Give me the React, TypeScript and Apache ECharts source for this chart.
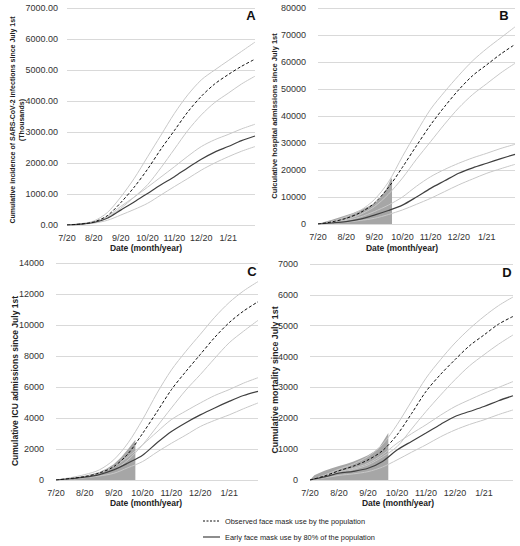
import React, { useEffect, useRef } from "react";
import * as echarts from "echarts";

const MONTHS = [0, 0.5, 1, 1.5, 2, 2.5, 3, 3.5, 4, 4.5, 5, 5.5, 6, 6.5, 7];
const X_LABELS = ["7/20", "8/20", "9/20", "10/20", "11/20", "12/20", "1/21"];

// Panel A (thousands)
const A_OBS = [0, 30, 100, 300, 720, 1220, 1800, 2450, 3050, 3650, 4150, 4550, 4850, 5120, 5350];
const A_OBS_HI = [0, 40, 130, 400, 900, 1500, 2200, 2900, 3600, 4200, 4680, 5000, 5300, 5600, 5900];
const A_OBS_LO = [0, 20, 80, 250, 540, 900, 1300, 1850, 2450, 3050, 3550, 3950, 4250, 4550, 4800];
const A_EARLY = [0, 30, 80, 220, 480, 740, 1020, 1300, 1560, 1850, 2120, 2350, 2530, 2720, 2870];
const A_EARLY_HI = [0, 40, 100, 280, 600, 900, 1220, 1550, 1880, 2220, 2530, 2750, 2920, 3100, 3250];
const A_EARLY_LO = [0, 20, 60, 150, 320, 500, 700, 970, 1240, 1500, 1770, 2000, 2200, 2380, 2530];

// Panel B
const B_OBS = [0, 800, 2100, 4200, 7700, 13500, 21000, 29000, 36700, 43500, 49700, 55000, 59000, 63000, 66500];
const B_OBS_HI = [0, 1000, 2700, 5000, 9000, 15500, 25000, 34000, 42500, 49000, 55000, 60500, 65000, 69000, 73000];
const B_OBS_LO = [0, 600, 1600, 3500, 6400, 11000, 17000, 24000, 30500, 37000, 43000, 48000, 52000, 56000, 59500];
const B_EARLY = [0, 400, 900, 1800, 3300, 5000, 7000, 10000, 13200, 16000, 18800, 20800, 22500, 24200, 25800];
const B_EARLY_HI = [0, 500, 1300, 2600, 4600, 7000, 10000, 14000, 17500, 20200, 22500, 24500, 26200, 28000, 29500];
const B_EARLY_LO = [0, 300, 700, 1300, 2100, 3500, 5200, 7300, 9500, 12000, 14500, 16700, 18800, 20500, 22100];
const B_DATA_X = [0, 0.25, 0.5, 0.75, 1, 1.25, 1.5, 1.75, 2, 2.2, 2.4, 2.5, 2.6, 2.63];
const B_DATA = [0, 800, 1600, 2400, 3200, 4100, 5200, 6300, 7600, 9500, 12500, 14500, 17000, 16500];

// Panel C
const C_OBS = [0, 100, 220, 450, 860, 1700, 3000, 4400, 5830, 7000, 8100, 9200, 10150, 10900, 11500];
const C_OBS_HI = [0, 150, 350, 650, 1300, 2400, 3900, 5600, 7100, 8300, 9400, 10500, 11450, 12200, 12800];
const C_OBS_LO = [0, 80, 180, 350, 650, 1300, 2270, 3450, 4650, 5800, 6800, 7850, 8850, 9600, 10300];
const C_EARLY = [0, 80, 180, 350, 650, 1100, 1600, 2400, 3130, 3700, 4200, 4650, 5070, 5450, 5720];
const C_EARLY_HI = [0, 100, 220, 450, 860, 1500, 2270, 3100, 3900, 4450, 4970, 5450, 5830, 6250, 6600];
const C_EARLY_LO = [0, 60, 140, 260, 430, 800, 1190, 1800, 2370, 2900, 3450, 3850, 4200, 4600, 4970];
const C_DATA_X = [0, 0.25, 0.5, 0.75, 1, 1.25, 1.5, 1.75, 2, 2.25, 2.5, 2.75];
const C_DATA = [0, 50, 120, 200, 280, 380, 520, 720, 1020, 1450, 2000, 2600];

// Panel D
const D_OBS = [0, 130, 300, 450, 650, 950, 1460, 2150, 2870, 3420, 3900, 4350, 4700, 5050, 5300];
const D_OBS_HI = [0, 160, 350, 520, 760, 1150, 1790, 2550, 3300, 3900, 4440, 4900, 5300, 5650, 5930];
const D_OBS_LO = [0, 100, 220, 340, 490, 750, 1080, 1650, 2220, 2750, 3250, 3700, 4060, 4400, 4700];
const D_EARLY = [0, 100, 220, 280, 380, 600, 970, 1250, 1520, 1800, 2060, 2220, 2380, 2570, 2730];
const D_EARLY_HI = [0, 130, 260, 380, 540, 820, 1190, 1500, 1790, 2100, 2380, 2600, 2810, 3000, 3190];
const D_EARLY_LO = [0, 70, 150, 200, 270, 420, 650, 900, 1140, 1400, 1620, 1800, 1950, 2120, 2270];
const D_DATA_X = [0, 0.15, 0.3, 0.5, 0.75, 1, 1.25, 1.5, 1.75, 2, 2.25, 2.4, 2.55, 2.7];
const D_DATA = [0, 150, 220, 300, 380, 450, 520, 600, 700, 800, 950, 1080, 1300, 1520];

const OBS_NAME = "Observed face mask use by the population";
const EARLY_NAME = "Early face mask use by 80% of the population";

const FONT = "Liberation Sans, Arial, sans-serif";
const LABEL_COLOR = "#333333";

const pair = (xs: number[], ys: number[]) => xs.map((x, i) => [x, ys[i]]);

export default function App() {
  const ref = useRef<HTMLDivElement>(null);
  useEffect(() => {
    if (!ref.current) return;
    const chart = echarts.init(ref.current, undefined, { renderer: "svg" });

    const grids = [
      { left: 67, top: 8, width: 188, height: 217 },
      { left: 318, top: 8, width: 197, height: 216 },
      { left: 56, top: 263, width: 202, height: 217 },
      { left: 310, top: 264, width: 203, height: 216 },
    ];
    const yMax = [7000, 80000, 14000, 7000];
    const yInt = [1000, 10000, 2000, 1000];

    const xAxes = grids.map((_, i) => ({
      type: "value",
      gridIndex: i,
      min: 0,
      max: 7,
      interval: 1,
      axisLine: { show: false },
      axisTick: { show: false },
      splitLine: { show: false },
      axisLabel: {
        fontSize: 9,
        color: LABEL_COLOR,
        fontFamily: FONT,
        margin: 8,
        formatter: (v: number) => X_LABELS[Math.round(v)] ?? "",
      },
    }));
    const yAxes = grids.map((_, i) => ({
      type: "value",
      gridIndex: i,
      min: 0,
      max: yMax[i],
      interval: yInt[i],
      axisLine: { show: false },
      axisTick: { show: false },
      splitLine: { lineStyle: { color: "#d9d9d9", width: 1 } },
      axisLabel: {
        fontSize: 9,
        color: LABEL_COLOR,
        fontFamily: FONT,
        margin: i === 0 ? 9 : 12,
        formatter: (v: number) => (i === 0 ? v.toFixed(2) : String(v)),
      },
    }));

    const panels = [
      [A_OBS, A_OBS_HI, A_OBS_LO, A_EARLY, A_EARLY_HI, A_EARLY_LO],
      [B_OBS, B_OBS_HI, B_OBS_LO, B_EARLY, B_EARLY_HI, B_EARLY_LO],
      [C_OBS, C_OBS_HI, C_OBS_LO, C_EARLY, C_EARLY_HI, C_EARLY_LO],
      [D_OBS, D_OBS_HI, D_OBS_LO, D_EARLY, D_EARLY_HI, D_EARLY_LO],
    ];
    const observedData: (null | [number[], number[]])[] = [
      null,
      [B_DATA_X, B_DATA],
      [C_DATA_X, C_DATA],
      [D_DATA_X, D_DATA],
    ];

    const series: any[] = [];
    panels.forEach((p, i) => {
      const od = observedData[i];
      if (od) {
        series.push({
          type: "line",
          name: "data" + i,
          xAxisIndex: i,
          yAxisIndex: i,
          data: pair(od[0], od[1]),
          symbol: "none",
          lineStyle: { width: 0, color: "#a6a6a6" },
          areaStyle: { color: "#a6a6a6", opacity: 1 },
          z: 1,
        });
      }
      const bounds = [p[1], p[2], p[4], p[5]];
      bounds.forEach((b, k) => {
        series.push({
          type: "line",
          name: "bound" + i + "_" + k,
          xAxisIndex: i,
          yAxisIndex: i,
          data: pair(MONTHS, b),
          symbol: "none",
          smooth: 0.3,
          lineStyle: { width: 1, color: "#c8c8c8" },
          z: 2,
        });
      });
      series.push({
        type: "line",
        name: EARLY_NAME,
        xAxisIndex: i,
        yAxisIndex: i,
        data: pair(MONTHS, p[3]),
        symbol: "none",
        smooth: 0.3,
        lineStyle: { width: 1.2, color: "#404040" },
        z: 3,
      });
      series.push({
        type: "line",
        name: OBS_NAME,
        xAxisIndex: i,
        yAxisIndex: i,
        data: pair(MONTHS, p[0]),
        symbol: "none",
        smooth: 0.3,
        lineStyle: { width: 1, color: "#111111", type: [3, 2] },
        z: 4,
      });
    });

    const yTitle = (x: number, y: number, text: string, size: number) => ({
      type: "text",
      x,
      y,
      rotation: Math.PI / 2,
      style: {
        text,
        fontSize: size,
        lineHeight: size + 1.5,
        fontWeight: "bold",
        fontFamily: FONT,
        fill: "#222222",
        align: "center",
        verticalAlign: "middle",
      },
    });
    const xTitle = (x: number, y: number) => ({
      type: "text",
      x,
      y,
      style: {
        text: "Date (month/year)",
        fontSize: 8.5,
        fontWeight: "bold",
        fontFamily: FONT,
        fill: "#222222",
        align: "center",
        verticalAlign: "middle",
      },
    });
    const letter = (x: number, y: number, text: string) => ({
      type: "text",
      x,
      y,
      style: {
        text,
        fontSize: 13,
        fontWeight: "bold",
        fontFamily: FONT,
        fill: "#111111",
        align: "center",
        verticalAlign: "middle",
      },
    });
    const legendItem = (y: number, text: string, dashed: boolean) => ({
      type: "group",
      children: [
        {
          type: "line",
          shape: { x1: 203, y1: y, x2: 220, y2: y },
          style: {
            stroke: dashed ? "#111111" : "#404040",
            lineWidth: dashed ? 1 : 1.2,
            lineDash: dashed ? [2, 1.5] : null,
          },
        },
        {
          type: "text",
          x: 225,
          y,
          style: {
            text,
            fontSize: 7.4,
            fontFamily: FONT,
            fill: "#222222",
            align: "left",
            verticalAlign: "middle",
          },
        },
      ],
    });

    chart.setOption({
      animation: false,
      backgroundColor: "#ffffff",
      grid: grids,
      xAxis: xAxes,
      yAxis: yAxes,
      series,
      graphic: [
        yTitle(17, 120, "Cumulative incidence of SARS-CoV-2 infections since July 1st\n(Thousands)", 7),
        yTitle(274, 116, "Culculative hospital admissions since July 1st", 7.5),
        yTitle(15, 381, "Cumulative ICU admissions since July 1st", 8.5),
        yTitle(275, 380, "Cumulative mortality since July 1st", 8.8),
        xTitle(146, 248),
        xTitle(402, 248),
        xTitle(146, 503),
        xTitle(398, 503),
        letter(251, 15, "A"),
        letter(504, 15, "B"),
        letter(252, 271, "C"),
        letter(507, 272, "D"),
        legendItem(521, OBS_NAME, true),
        legendItem(537, EARLY_NAME, false),
      ],
    });
    return () => chart.dispose();
  }, []);
  return (
    <div
      ref={ref}
      style={{ position: "absolute", left: 0, top: 0, width: 520, height: 546 }}
    />
  );
}
